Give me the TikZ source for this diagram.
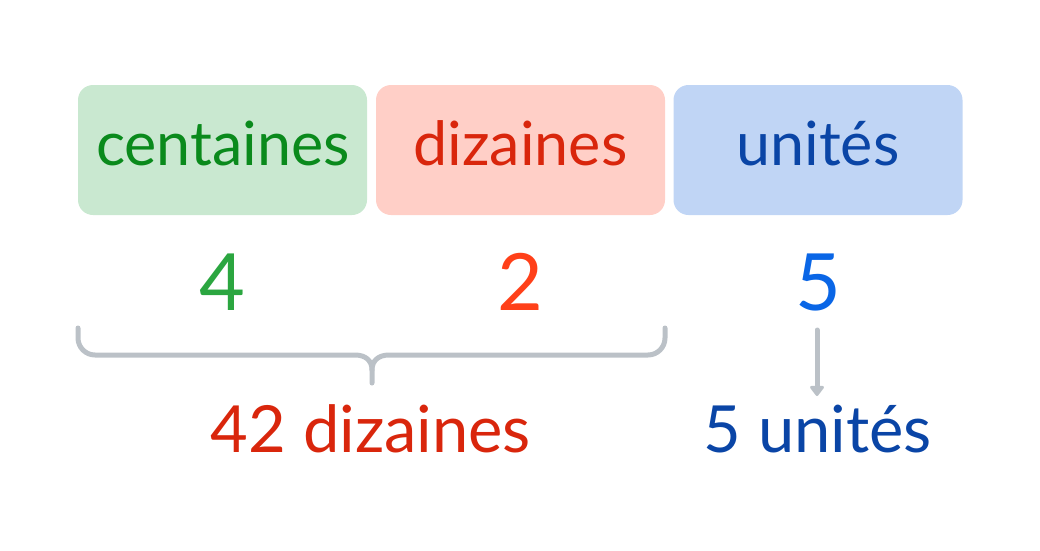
\documentclass[tikz,border=0pt]{standalone}
\usepackage{fontspec}
\setmainfont{Lato}
\usetikzlibrary{arrows.meta}
\definecolor{gfill}{HTML}{C9E8D0}
\definecolor{gtext}{HTML}{0A8A1C}
\definecolor{gnum}{HTML}{2BA640}
\definecolor{rfill}{HTML}{FFCFC7}
\definecolor{rtext}{HTML}{D9260C}
\definecolor{rnum}{HTML}{FF4019}
\definecolor{bfill}{HTML}{C0D5F5}
\definecolor{btext}{HTML}{0A45A6}
\definecolor{bnum}{HTML}{0A66E6}
\definecolor{lgray}{HTML}{BBC1C7}
\tikzset{
  catbox/.style={rounded corners=15pt, minimum width=289pt, minimum height=130pt, inner sep=0pt},
  cattxt/.style={font=\fontsize{61}{64}\selectfont, anchor=base},
  numtxt/.style={font=\fontsize{79}{82}\selectfont, anchor=base},
  labtxt/.style={font=\fontsize{65}{68}\selectfont, anchor=base},
  connline/.style={draw=lgray, line width=5pt, line cap=round, line join=round}
}
\begin{document}
\begin{tikzpicture}[x=1pt,y=-1pt]
\useasboundingbox (0,0) rectangle (1040,550);
\node[catbox, fill=gfill] (c) at (222.5,150) {};
\node[catbox, fill=rfill] (d) at (520.5,150) {};
\node[catbox, fill=bfill] (u) at (818,150) {};
\node[cattxt, text=gtext] (ct) at (223,165) {centaines};
\node[cattxt, text=rtext] (dt) at (520.5,165) {dizaines};
\node[cattxt, text=btext] (ut) at (818,165) {unités};
\node[numtxt, text=gnum] (n4) at (222,310) {4};
\node[numtxt, text=rnum] (n2) at (520,310) {2};
\node[numtxt, text=bnum] (n5) at (818,310) {5};
\node[labtxt, text=rtext] (l42) at (371,452) {42 dizaines};
\node[labtxt, text=btext] (l5) at (818,452) {5 unités};
\coordinate (bl) at (78,328);
\coordinate (br) at (665,328);
\coordinate (bt) at (372,383);
\draw[connline] (bl) -- (78,338) arc[start angle=180, end angle=90, radius=17] -- (355,355)
  .. controls (366,355) and (372,361) .. (372,370) -- (bt);
\draw[connline] (br) -- (665,338) arc[start angle=0, end angle=90, radius=17] -- (389,355)
  .. controls (378,355) and (372,361) .. (372,370);
\coordinate (as) at (817,330);
\coordinate (ae) at (817,396);
\draw[connline, -{Triangle[width=16pt,length=11pt,round]}] (as) -- (ae);
\end{tikzpicture}
\end{document}
